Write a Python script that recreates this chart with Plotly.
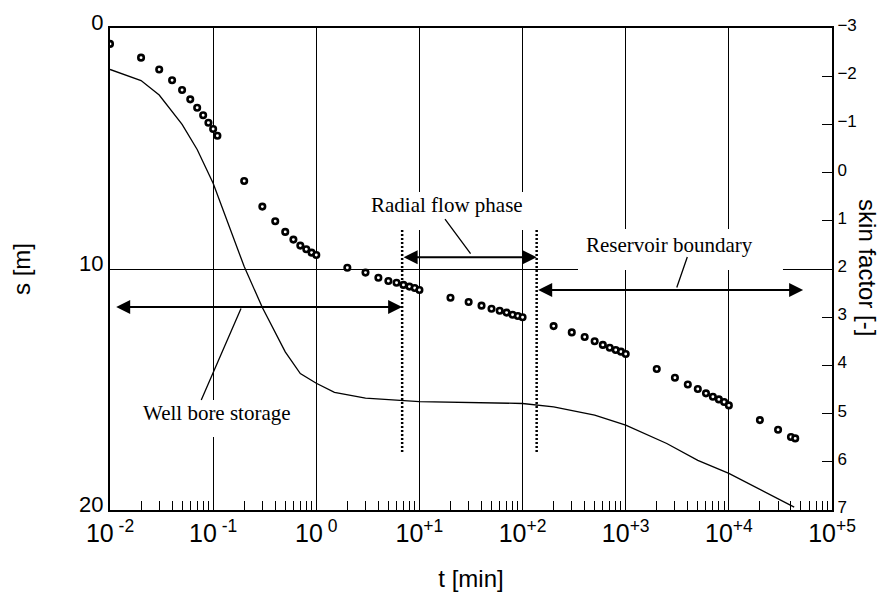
import numpy as np
import plotly.graph_objects as go

# ---------------- data ----------------
t_obs = [0.01, 0.02, 0.03, 0.04, 0.05, 0.06, 0.07, 0.08, 0.09, 0.1, 0.11,
         0.2, 0.3, 0.4, 0.5, 0.6, 0.7, 0.8, 0.9, 1.0,
         2, 3, 4, 5, 6, 7, 8, 9, 10,
         20, 30, 40, 50, 60, 70, 80, 90, 100,
         200, 300, 400, 500, 600, 700, 800, 900, 1000,
         2000, 3000, 4000, 5000, 6000, 7000, 8000, 9000, 10000,
         20000, 30000, 40000, 44000]
s_obs = [0.66, 1.23, 1.72, 2.17, 2.57, 2.96, 3.31, 3.62, 3.93, 4.19, 4.47,
         6.35, 7.41, 8.02, 8.46, 8.78, 9.03, 9.18, 9.32, 9.42,
         9.95, 10.15, 10.36, 10.50, 10.57, 10.66, 10.73, 10.79, 10.87,
         11.19, 11.37, 11.52, 11.65, 11.73, 11.81, 11.90, 11.95, 12.00,
         12.37, 12.63, 12.82, 13.00, 13.15, 13.27, 13.36, 13.43, 13.53,
         14.15, 14.51, 14.79, 14.98, 15.16, 15.30, 15.41, 15.52, 15.66,
         16.27, 16.67, 16.97, 17.03]

t_curve = [0.01, 0.02, 0.03, 0.05, 0.07, 0.1, 0.2, 0.3, 0.5, 0.7, 1.0, 1.5, 3,
           10, 100, 200, 500, 1000, 2500, 5000, 10000, 20000, 43000]
skin_curve = [-2.14, -1.91, -1.61, -1.00, -0.48, 0.22, 1.95, 2.80, 3.72, 4.17, 4.37,
              4.56, 4.68, 4.75, 4.79, 4.86, 5.03, 5.24, 5.62, 5.97, 6.24, 6.58, 6.94]

x_decades = [1e-2, 1e-1, 1e0, 1e1, 1e2, 1e3, 1e4, 1e5]
x_ticktext = ["10<sup>\u00a0-2</sup>", "10<sup>\u00a0-1</sup>", "10<sup>\u00a00</sup>",
              "10<sup>+1</sup>", "10<sup>+2</sup>", "10<sup>+3</sup>",
              "10<sup>+4</sup>", "10<sup>+5</sup>"]
x_minor = [k * d for d in x_decades[:-1] for k in range(2, 10)]
s_ticks = [0, 10, 20]
skin_ticks = list(range(-3, 8))

# flow-phase boundaries (time, min) and arrow levels (s, m)
t_wbs_end = 6.8
t_radial_end = 137
t_arrow_left = 0.0111
t_arrow_right = 52500
s_wbs_arrow = 11.58
s_radial_arrow = 9.51
s_res_arrow = 10.87
s_dotted = [8.38, 17.59]

FONT = "Liberation Sans"
SERIF = "Liberation Serif"

fig = go.Figure()

# dotted phase-boundary lines
for tb in (t_wbs_end, t_radial_end):
    fig.add_trace(go.Scatter(x=[tb, tb], y=s_dotted, mode="lines",
                             line=dict(color="black", width=2.5, dash="2px,2px"),
                             hoverinfo="skip", yaxis="y"))

# skin factor curve (right axis)
fig.add_trace(go.Scatter(x=t_curve, y=skin_curve, mode="lines",
                         line=dict(color="black", width=1.3), yaxis="y2",
                         name="skin factor"))

# drawdown observations
fig.add_trace(go.Scatter(x=t_obs, y=s_obs, mode="markers",
                         marker=dict(symbol="circle", size=5.5, color="white",
                                     line=dict(color="black", width=2.6)),
                         yaxis="y", name="s"))

lg = np.log10
ann = []
# white masks behind labels (as in the original)
masks = [(0.3546, 0.5776, 0.5809, 0.6598),
         (0.6482, 0.9321, 0.4979, 0.5830),
         (0.0416, 0.2535, 0.1515, 0.2282)]
shapes = [dict(type="rect", xref="paper", yref="paper", x0=a, x1=b, y0=c, y1=d,
               fillcolor="white", line=dict(width=0), layer="above") for a, b, c, d in masks]

def darrow(t0, t1, s):
    return dict(x=lg(t1), y=s, ax=lg(t0), ay=s, xref="x", yref="y", axref="x", ayref="y",
                text="", showarrow=True, arrowhead=2, startarrowhead=2, arrowside="end+start",
                arrowsize=1.4, startarrowsize=1.4, arrowwidth=2, arrowcolor="black")

def leader(t0, s0, t1, s1):
    return dict(x=lg(t1), y=s1, ax=lg(t0), ay=s0, xref="x", yref="y", axref="x", ayref="y",
                text="", showarrow=True, arrowhead=0, arrowwidth=1.3, arrowcolor="black")

def label(txt, t, s):
    return dict(x=lg(t), y=s, xref="x", yref="y", text=txt, showarrow=False,
                font=dict(family=SERIF, size=21, color="black"))

ann += [darrow(t_arrow_left, t_wbs_end, s_wbs_arrow),
        darrow(t_wbs_end, t_radial_end, s_radial_arrow),
        darrow(t_radial_end, t_arrow_right, s_res_arrow),
        leader(32.1, 9.42, 17.7, 7.93),
        leader(3090, 10.83, 3955, 9.50),
        leader(0.189, 11.58, 0.0767, 15.44),
        label("Radial flow phase", 18.4, 7.36),
        label("Reservoir boundary", 2630, 9.02),
        label("Well bore storage", 0.1083, 15.98)]

ann.append(dict(x=1.0499, y=0.504, xref="paper", yref="paper", text="skin factor [-]",
                xanchor="center", yanchor="middle",
                textangle=90, showarrow=False, font=dict(family=FONT, size=24, color="black")))

fig.update_layout(
    width=885, height=592,
    margin=dict(l=110, r=53, t=28, b=82, autoexpand=False),
    paper_bgcolor="white", plot_bgcolor="white",
    showlegend=False,
    font=dict(family=FONT, color="black"),
    xaxis=dict(type="log", range=[-2, 5], tickmode="array", tickvals=x_decades,
               ticktext=x_ticktext, ticks="", showgrid=True, gridcolor="black", gridwidth=1.2,
               showline=True, linecolor="black", linewidth=2, mirror=True, zeroline=False,
               automargin=False,
               tickfont=dict(family=FONT, size=25, color="black"),
               title=dict(text="t [min]", font=dict(family=FONT, size=24, color="black"), standoff=36),
               minor=dict(tickmode="array", tickvals=x_minor, ticks="inside", ticklen=9,
                          tickwidth=1.3, tickcolor="black", showgrid=False)),
    yaxis=dict(range=[20, 0], tickmode="array", tickvals=s_ticks, ticks="",
               showgrid=True, gridcolor="black", gridwidth=1.2, zeroline=False,
               showline=True, linecolor="black", linewidth=2, ticklabelshift=6,
               automargin=False,
               tickfont=dict(family=FONT, size=22, color="black"),
               title=dict(text="s [m]", font=dict(family=FONT, size=24, color="black"), standoff=42)),
    yaxis2=dict(overlaying="y", side="right", range=[7, -3], tickmode="array",
                tickvals=skin_ticks, ticks="inside", ticklen=10, tickwidth=1.3, tickcolor="black",
                showgrid=False, zeroline=False, showline=True, linecolor="black", linewidth=2,
                automargin=False, ticklabelshift=3,
                tickfont=dict(family=FONT, size=17, color="black")),
    shapes=shapes,
    annotations=ann,
)

fig.write_html("out.html")
